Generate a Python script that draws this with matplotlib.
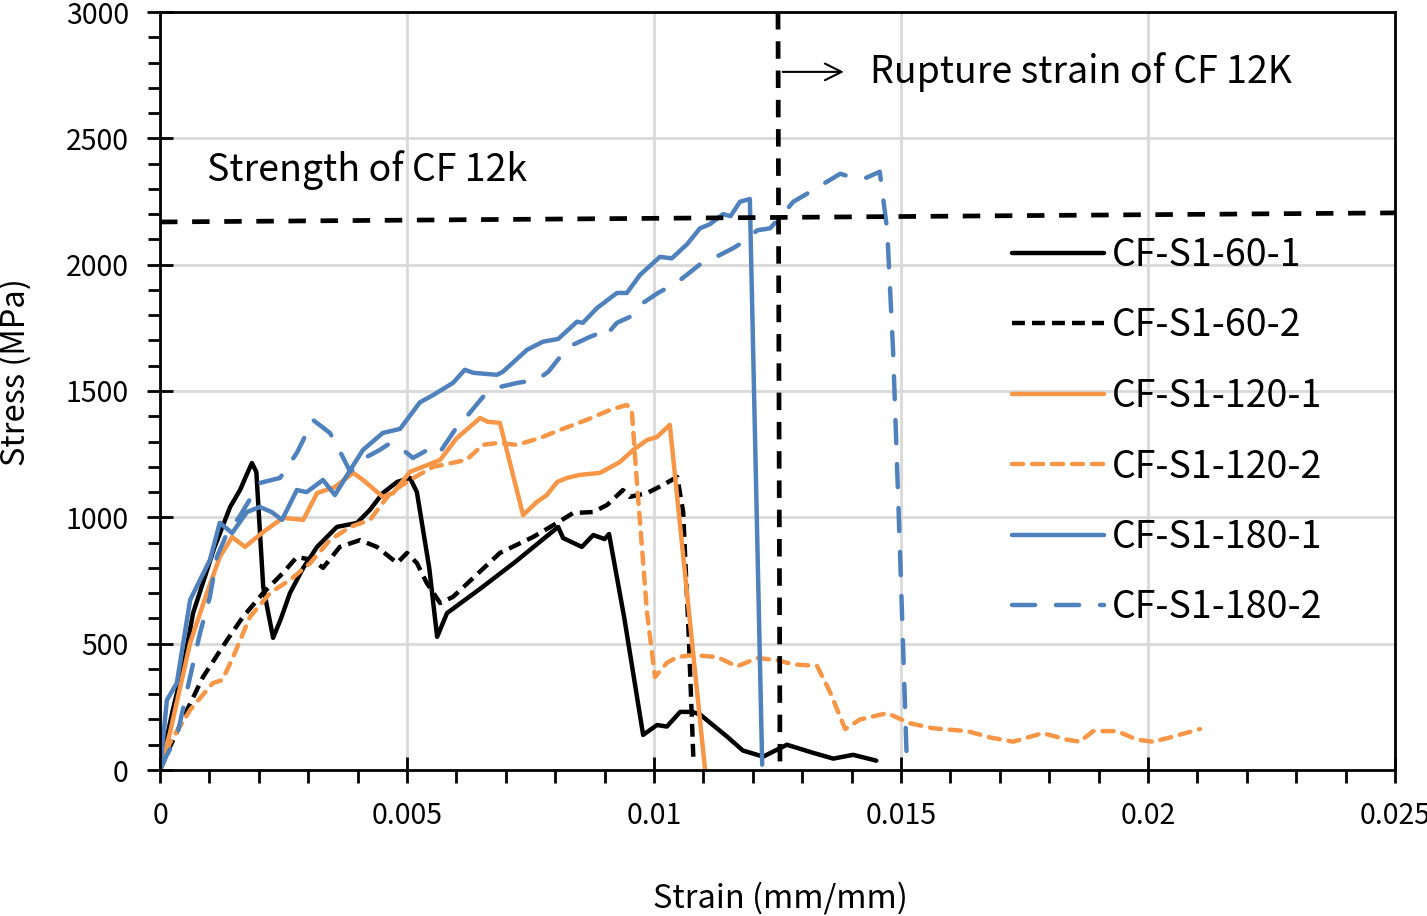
import matplotlib.pyplot as plt
from matplotlib.ticker import MultipleLocator

# stress-strain curves
s60_1_x = [0, 0.00025, 0.00047, 0.00067, 0.0011, 0.00142, 0.00162, 0.00178, 0.00186, 0.00195,
           0.00209, 0.00229, 0.00245, 0.00263, 0.0029, 0.00318, 0.00358, 0.00399, 0.00425, 0.00451,
           0.0048, 0.00506, 0.0052, 0.00545, 0.00561, 0.00581, 0.0065, 0.0072, 0.00806, 0.00816,
           0.00854, 0.00877, 0.009, 0.00909, 0.0094, 0.00978, 0.01006, 0.01026, 0.01053, 0.01077,
           0.01093, 0.01148, 0.0118, 0.01221, 0.01269, 0.01322, 0.01363, 0.01403, 0.0145]
s60_1_y = [0, 230, 408, 621, 880, 1041, 1108, 1180, 1215, 1180,
           724, 523, 600, 700, 800, 883, 962, 978, 1030, 1096,
           1140, 1156, 1100, 800, 527, 621, 720, 825, 962, 918,
           883, 930, 914, 934, 600, 139, 178, 172, 230, 230,
           220, 132, 77, 53, 100, 68, 45, 60, 37]

s60_2_x = [0, 0.0002, 0.00055, 0.00087, 0.00136, 0.00168, 0.00209, 0.00249, 0.00277, 0.0031,
           0.0033, 0.00364, 0.00405, 0.00439, 0.0048, 0.005, 0.0052, 0.0054, 0.00567, 0.00593,
           0.00688, 0.00755, 0.00804, 0.00836, 0.00877, 0.00905, 0.00937, 0.00951, 0.00986, 0.01018,
           0.01047, 0.01059, 0.0107, 0.0108]
s60_2_y = [0, 91, 238, 368, 515, 606, 701, 780, 843, 831,
           800, 883, 910, 883, 819, 859, 819, 740, 661, 685,
           859, 922, 978, 1017, 1021, 1049, 1108, 1081, 1096, 1128,
           1160, 1022, 546, 30]

s120_1_x = [0, 0.0002, 0.00061, 0.00095, 0.00121, 0.00146, 0.00172, 0.00209, 0.00249, 0.0029,
            0.00318, 0.00354, 0.00391, 0.00411, 0.00451, 0.00472, 0.00506, 0.00567, 0.00601, 0.00648,
            0.00664, 0.00688, 0.00735, 0.00763, 0.00783, 0.00804, 0.00824, 0.0085, 0.00891, 0.00931,
            0.00958, 0.00986, 0.01006, 0.01032, 0.01103]
s120_1_y = [0, 146, 503, 701, 843, 922, 883, 942, 998, 990,
            1096, 1120, 1176, 1148, 1081, 1096, 1180, 1227, 1314, 1393,
            1378, 1374, 1009, 1061, 1088, 1140, 1156, 1168, 1176, 1219,
            1267, 1306, 1318, 1366, 8]

s120_2_x = [0, 0.0002, 0.00061, 0.00107, 0.00126, 0.00148, 0.00182, 0.00223, 0.00263, 0.00304,
            0.00344, 0.00385, 0.00425, 0.00466, 0.00506, 0.00553, 0.0062, 0.00654, 0.00682, 0.00723,
            0.00769, 0.0081, 0.00864, 0.00911, 0.00945, 0.00955, 0.00965, 0.00986, 0.01002, 0.01026,
            0.01047, 0.01079, 0.01128, 0.01168, 0.01209, 0.01249, 0.01282, 0.0133, 0.01356, 0.01387,
            0.01417, 0.01472, 0.01518, 0.01565, 0.01634, 0.0168, 0.01727, 0.01787, 0.01836, 0.01862,
            0.01889, 0.01937, 0.01978, 0.0201, 0.02045, 0.02105]
s120_2_y = [0, 107, 238, 344, 356, 447, 606, 701, 752, 819,
            910, 962, 990, 1096, 1148, 1200, 1227, 1287, 1294, 1287,
            1314, 1346, 1386, 1425, 1445, 1425, 1148, 621, 368, 424,
            447, 455, 447, 410, 443, 435, 418, 412, 310, 162,
            200, 225, 185, 165, 154, 129, 112, 146, 120, 112,
            154, 154, 120, 112, 129, 162]

s180_1_x = [0, 0.00014, 0.00034, 0.00061, 0.00081, 0.00101, 0.00121, 0.00146, 0.00176, 0.00202,
            0.00226, 0.00247, 0.00277, 0.00297, 0.0033, 0.00354, 0.00385, 0.00411, 0.00451, 0.00486,
            0.00526, 0.00553, 0.00593, 0.00617, 0.00634, 0.00682, 0.00694, 0.00743, 0.00775, 0.00806,
            0.00844, 0.00856, 0.00885, 0.00925, 0.00945, 0.00972, 0.01012, 0.01036, 0.01067, 0.01093,
            0.01113, 0.0114, 0.01155, 0.01174, 0.01194, 0.01219]
s180_1_y = [0, 277, 344, 673, 752, 831, 978, 938, 1021, 1041,
            1021, 990, 1108, 1100, 1148, 1088, 1187, 1267, 1334, 1350,
            1455, 1484, 1532, 1584, 1572, 1564, 1576, 1663, 1695, 1706,
            1774, 1770, 1829, 1888, 1888, 1960, 2031, 2025, 2081, 2144,
            2160, 2200, 2192, 2249, 2260, 21]

s180_2_x = [0, 0.00014, 0.00034, 0.00055, 0.00081, 0.00101, 0.00115, 0.00136, 0.0016, 0.00202,
            0.00243, 0.00277, 0.0031, 0.00344, 0.0037, 0.00385, 0.0041, 0.00445, 0.00466, 0.00492,
            0.00512, 0.00553, 0.00567, 0.00597, 0.0062, 0.00654, 0.00688, 0.00723, 0.00763, 0.00786,
            0.0081, 0.00836, 0.0087, 0.00891, 0.009, 0.00925, 0.00951, 0.00978, 0.01008, 0.01047,
            0.01093, 0.01128, 0.0116, 0.0118, 0.01209, 0.01235, 0.01261, 0.01282, 0.01316, 0.0135,
            0.01377, 0.01403, 0.0143, 0.01457, 0.01472, 0.01484, 0.01498, 0.01512]
s180_2_y = [0, 60, 130, 317, 542, 685, 843, 938, 1000, 1136,
            1156, 1255, 1385, 1334, 1239, 1180, 1230, 1267, 1294, 1267,
            1235, 1279, 1259, 1346, 1397, 1477, 1516, 1532, 1544, 1576,
            1635, 1683, 1714, 1730, 1714, 1770, 1793, 1849, 1888, 1930,
            2001, 2033, 2065, 2089, 2136, 2144, 2200, 2249, 2288, 2328,
            2360, 2344, 2344, 2368, 2138, 1659, 863, 21]

strength_x = [0, 0.025]
strength_y = [2169, 2205]
rupture_x = [0.01251, 0.01255]
rupture_y = [3000, 0]

plt.rcParams['font.family'] = ['Noto Sans CJK KR', 'DejaVu Sans']

fig = plt.figure(figsize=(14.27, 9.16), dpi=100)
ax = fig.add_axes([160/1427, 146/916, 1235/1427, 758/916])

black = '#000000'
orange = '#F79646'
blue = '#4F81BD'
lw = 3.2
common = dict(lw=lw, solid_joinstyle='round', solid_capstyle='round')

ax.plot(s60_1_x, s60_1_y, color=black, label='CF-S1-60-1', **common)
ax.plot(s60_2_x, s60_2_y, color=black, dashes=(2.9, 1.6), label='CF-S1-60-2', **common)
ax.plot(s120_1_x, s120_1_y, color=orange, label='CF-S1-120-1', **common)
ax.plot(s120_2_x, s120_2_y, color=orange, dashes=(2.5, 2.0),
        dash_capstyle='round', label='CF-S1-120-2', **common)
ax.plot(s180_1_x, s180_1_y, color=blue, label='CF-S1-180-1', **common)
ax.plot(s180_2_x, s180_2_y, color=blue, dashes=(5.2, 4.7),
        dash_capstyle='round', label='CF-S1-180-2', **common)

# reference lines
ax.plot(strength_x, strength_y, color=black, lw=3.4, dashes=(3.7, 3.1))
ax.plot(rupture_x, rupture_y, color=black, lw=3.4, dashes=(3.7, 2.5))

ax.annotate('', xy=(0.0139, 2763), xytext=(0.01255, 2763),
            arrowprops=dict(arrowstyle='->', lw=1.5, color=black, mutation_scale=30))
ax.text(0.01437, 2763, 'Rupture strain of CF 12K', fontsize=27, va='center', ha='left')
ax.text(0.00095, 2375, 'Strength of CF 12k', fontsize=27, va='center', ha='left')

ax.set_xlim(0, 0.025)
ax.set_ylim(0, 3000)
ax.xaxis.set_major_locator(MultipleLocator(0.005))
ax.xaxis.set_minor_locator(MultipleLocator(0.001))
ax.yaxis.set_major_locator(MultipleLocator(500))
ax.yaxis.set_minor_locator(MultipleLocator(100))
ax.set_xticks([0, 0.005, 0.01, 0.015, 0.02, 0.025])
ax.set_xticklabels(['0', '0.005', '0.01', '0.015', '0.02', '0.025'])
ax.grid(True, which='major', color='#d9d9d9', lw=2)
ax.set_axisbelow(True)
ax.tick_params(which='major', direction='inout', length=19, width=2, labelsize=20.5, pad=13)
ax.tick_params(which='minor', direction='out', length=9, width=2)
for sp in ax.spines.values():
    sp.set_linewidth(2)

fig.text(15/1427, 1 - 372/916, 'Stress (MPa)', rotation=90, ha='center', va='center', fontsize=23.5)
fig.text(780/1427, 1 - 898/916, 'Strain (mm/mm)', ha='center', va='center', fontsize=23.5)

ax.legend(loc='upper left', bbox_to_anchor=(1012/1427, 1 - 236/916), bbox_transform=fig.transFigure,
          frameon=False, fontsize=27, handlelength=2.45, handletextpad=0.2, labelspacing=0.84,
          borderpad=0, borderaxespad=0)

fig.savefig('out.png', dpi=100)
